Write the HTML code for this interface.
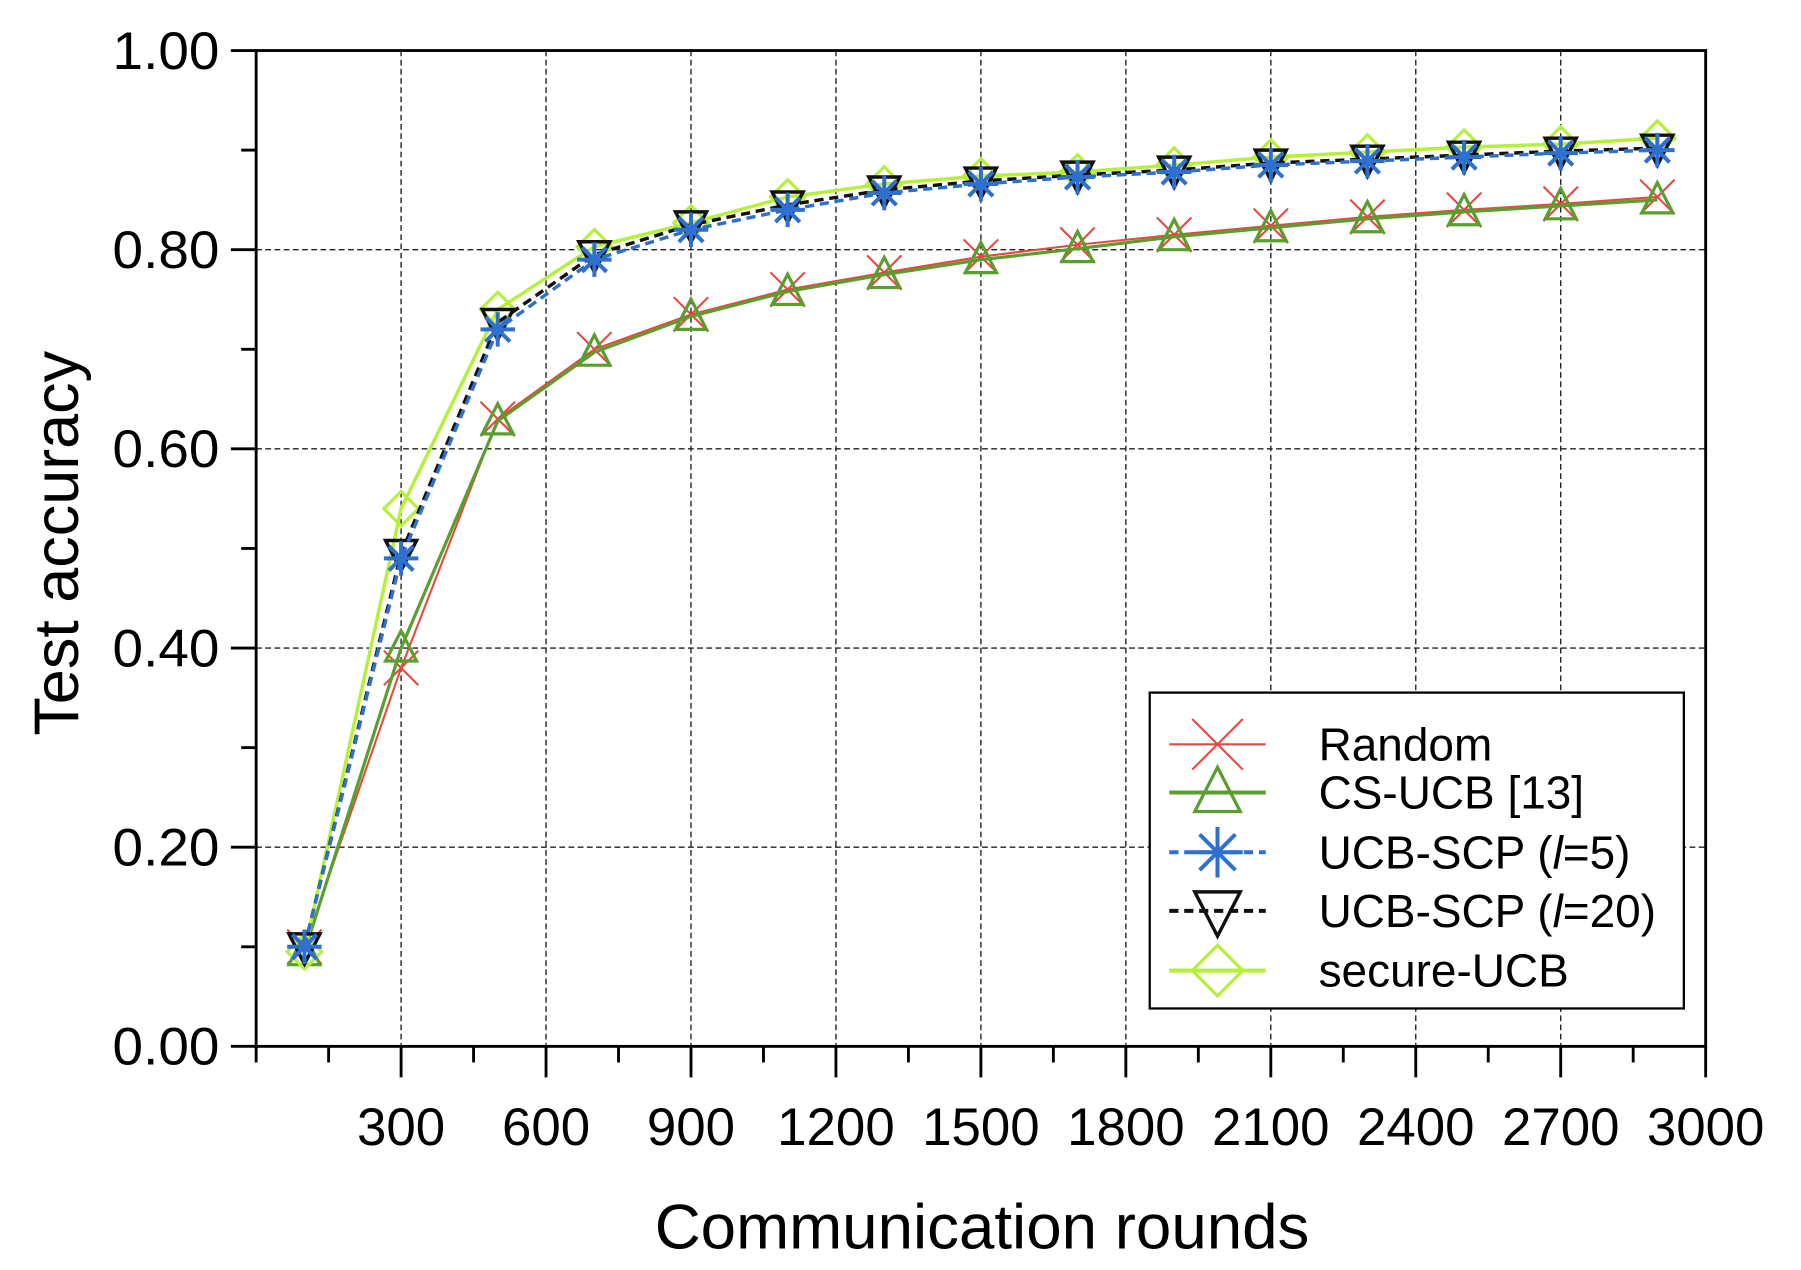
<!DOCTYPE html>
<html><head><meta charset="utf-8"><style>
html,body{margin:0;padding:0;background:#fff;width:1801px;height:1270px;overflow:hidden}
svg{display:block}
text{font-family:"Liberation Sans",Arial,sans-serif;fill:#000}
</style></head><body>
<svg id="s" width="1801" height="1270" viewBox="0 0 1568 1105.7" preserveAspectRatio="none" xmlns="http://www.w3.org/2000/svg"></svg>
<script>
const s=document.getElementById('s');
const L=223,R=1485,T=44,B=911;
const X=v=>L+(R-L)*v/3000, Y=v=>B-(B-T)*v;
let h='';
for(let v=300;v<3000;v+=300)h+=`<line x1="${X(v)}" y1="${T}" x2="${X(v)}" y2="${B}" stroke="#222" stroke-width="1.2" stroke-dasharray="5,3"/>`;
for(let v=0.2;v<0.99;v+=0.2)h+=`<line x1="${L}" y1="${Y(v)}" x2="${R}" y2="${Y(v)}" stroke="#222" stroke-width="1.2" stroke-dasharray="5,3"/>`;
h+=`<rect x="${L}" y="${T}" width="${R-L}" height="${B-T}" fill="none" stroke="#000" stroke-width="2.5"/>`;
for(let i=0;i<=10;i++){const v=i*0.1,len=i%2==0?22:13;h+=`<line x1="${L-len}" y1="${Y(v)}" x2="${L}" y2="${Y(v)}" stroke="#000" stroke-width="2.5"/>`;}
for(let i=0;i<=20;i++){const v=i*150,len=(i%2==0&&i>0)?27:14;h+=`<line x1="${X(v)}" y1="${B}" x2="${X(v)}" y2="${B+len}" stroke="#000" stroke-width="2.5"/>`;}
for(let i=0;i<=5;i++){const v=i*0.2;h+=`<text x="191" y="${Y(v)+16}" font-size="46" text-anchor="end" textLength="93" lengthAdjust="spacingAndGlyphs">${v.toFixed(2)}</text>`;}
for(let v=300;v<=3000;v+=300)h+=`<text x="${X(v)}" y="997" font-size="46" text-anchor="middle">${v}</text>`;
h+=`<text x="855" y="1087" font-size="55" text-anchor="middle" textLength="570" lengthAdjust="spacingAndGlyphs">Communication rounds</text>`;
h+=`<text transform="translate(68,473) rotate(-90)" font-size="55" text-anchor="middle" textLength="335" lengthAdjust="spacingAndGlyphs">Test accuracy</text>`;
const xs=[100,300,500,700,900,1100,1300,1500,1700,1900,2100,2300,2500,2700,2900];
const S=[
 {c:'#e8473f',w:1.8,d:'',m:'x',y:[0.10,0.38,0.63,0.70,0.735,0.76,0.777,0.793,0.805,0.815,0.824,0.833,0.84,0.846,0.853]},
 {c:'#5a9e2f',w:2.8,d:'',m:'tri',y:[0.095,0.40,0.628,0.697,0.733,0.758,0.775,0.79,0.801,0.813,0.822,0.831,0.838,0.844,0.85]},
 {c:'#b6f03c',w:3,d:'',m:'dia',y:[0.095,0.54,0.74,0.803,0.827,0.853,0.866,0.874,0.878,0.885,0.893,0.898,0.903,0.906,0.912]},
 {c:'#111',w:3,d:'8,5',m:'inv',y:[0.10,0.495,0.727,0.795,0.825,0.845,0.86,0.869,0.875,0.88,0.887,0.891,0.895,0.899,0.902]},
 {c:'#2f6fd0',w:3,d:'8,5',m:'star',y:[0.10,0.49,0.72,0.79,0.82,0.84,0.857,0.866,0.873,0.878,0.885,0.889,0.893,0.897,0.90]},
];
function mk(m,x,y,c,r){
 if(m=='x')return `<path d="M${x-r} ${y-r}L${x+r} ${y+r}M${x-r} ${y+r}L${x+r} ${y-r}" stroke="${c}" stroke-width="1.8" fill="none"/>`;
 if(m=='tri')return `<path d="M${x} ${y-r}L${x+r*0.9} ${y+r*0.75}L${x-r*0.9} ${y+r*0.75}Z" stroke="${c}" stroke-width="2.8" fill="none"/>`;
 if(m=='inv')return `<path d="M${x} ${y+r}L${x+r*0.9} ${y-r*0.75}L${x-r*0.9} ${y-r*0.75}Z" stroke="${c}" stroke-width="3" fill="none"/>`;
 if(m=='dia')return `<path d="M${x} ${y-r}L${x+r} ${y}L${x} ${y+r}L${x-r} ${y}Z" stroke="${c}" stroke-width="2.8" fill="none"/>`;
 let p='';for(let k=0;k<4;k++){const a=k*Math.PI/4;p+=`M${x-r*Math.cos(a)} ${y-r*Math.sin(a)}L${x+r*Math.cos(a)} ${y+r*Math.sin(a)}`;}
 return `<path d="${p}" stroke="${c}" stroke-width="3.5" fill="none"/>`;
}
for(const se of S){
 h+=`<polyline points="${xs.map((x,i)=>X(x)+','+Y(se.y[i])).join(' ')}" fill="none" stroke="${se.c}" stroke-width="${se.w}" ${se.d?`stroke-dasharray="${se.d}"`:''}/>`;
 xs.forEach((x,i)=>h+=mk(se.m,X(x),Y(se.y[i]),se.c,15));
}
h+=`<rect x="1001" y="603" width="465" height="275" fill="#fff" stroke="#000" stroke-width="2"/>`;
const lg=[['Random','#e8473f','x','',1.8,648],['CS-UCB [13]','#5a9e2f','tri','',3.5,690],['UCB-SCP (<tspan font-style="italic">l</tspan>=5)','#2f6fd0','star','8,5',3.5,742],['UCB-SCP (<tspan font-style="italic">l</tspan>=20)','#111','inv','8,5',3.5,793],['secure-UCB','#b6f03c','dia','',3.5,845]];
for(const [t,c,m,d,w,y] of lg){
 h+=`<line x1="1018" y1="${y}" x2="1102" y2="${y}" stroke="${c}" stroke-width="${w}" ${d?`stroke-dasharray="${d}"`:''}/>`;
 h+=mk(m,1060,y,c,22);
 h+=`<text x="1148" y="${y+14}" font-size="40">${t}</text>`;
}
s.innerHTML=h;
</script>
</body></html>
